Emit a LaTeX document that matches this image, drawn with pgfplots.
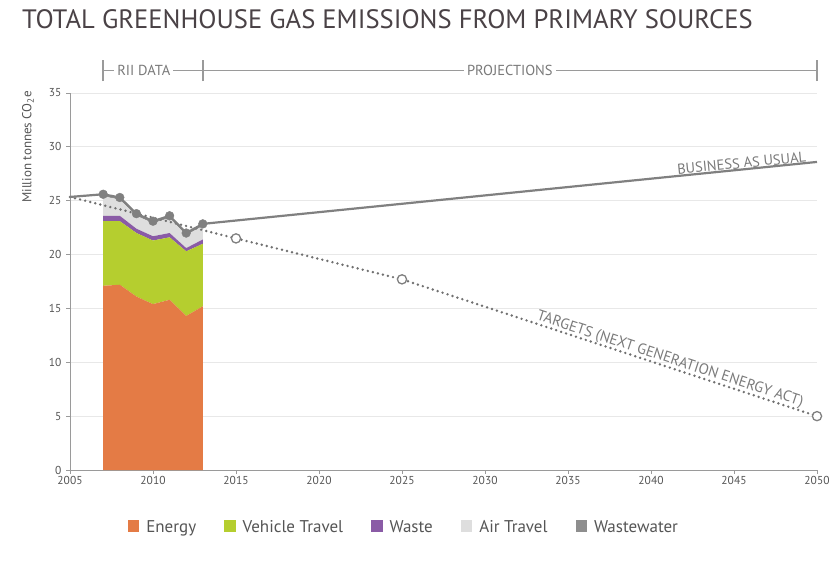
\documentclass[border=0pt]{standalone}
\usepackage{pgfplots}
\pgfplotsset{compat=1.18}
\usepackage{fontspec}
\setmainfont{PT Sans}
\setsansfont{PT Sans}

\definecolor{energy}{HTML}{E47B45}
\definecolor{vehicle}{HTML}{B5CE2F}
\definecolor{waste}{HTML}{8A5BA6}
\definecolor{air}{HTML}{DEDEDE}
\definecolor{wastewater}{HTML}{8E8E8E}
\definecolor{trend}{HTML}{808080}
\definecolor{dots}{HTML}{707070}
\definecolor{titlecol}{HTML}{4A4246}
\definecolor{labelcol}{HTML}{555555}
\definecolor{notecol}{HTML}{7A7A7A}
\definecolor{gridcol}{HTML}{E8E8E8}
\definecolor{axiscol}{HTML}{9A9A9A}

% Emission components by source (million tonnes CO2e)
\pgfplotstableread{
year energy vehicle waste air wastewater
2007 17.1 6.0 0.5 1.8 0.2
2008 17.2 5.9 0.5 1.5 0.2
2009 16.1 5.9 0.4 1.2 0.2
2010 15.4 5.9 0.4 1.2 0.2
2011 15.8 5.8 0.4 1.4 0.2
2012 14.3 6.0 0.3 1.2 0.2
2013 15.2 5.8 0.4 1.25 0.2
}\sources

% Totals, with the business-as-usual path to 2050
\pgfplotstableread{
year total
2005 25.35
2007 25.6
2008 25.3
2009 23.8
2010 23.1
2011 23.6
2012 22.0
2013 22.85
2050 28.6
}\bau

% Reduction targets
\pgfplotstableread{
year target
2005 25.35
2015 21.5
2025 17.7
2050 5.0
}\targets

\pgfplotsset{
  frame/.style={
    at={(70pt,93pt)}, anchor=south west,
    scale only axis, width=747pt, height=377pt,
    xmin=2005, xmax=2050, ymin=0, ymax=35,
    clip=false,
  },
}

\begin{document}
\begin{tikzpicture}
\path[use as bounding box] (0,0) rectangle (840pt,563pt);

\node[anchor=base west, text=titlecol, font=\fontsize{26.6}{30}\selectfont, inner sep=0pt]
  at (22pt,563pt-29pt) {TOTAL GREENHOUSE GAS EMISSIONS FROM PRIMARY SOURCES};

\node[rotate=90, anchor=east, text=labelcol, font=\fontsize{13}{15}\selectfont, inner sep=0pt]
  at (28pt,563pt-91pt) {Million tonnes CO\textsubscript{2}e};

% stacked source areas
\begin{axis}[
  frame,
  xtick={2005,2010,...,2050}, ytick={0,5,...,35},
  axis lines*=left,
  axis line style={axiscol, line width=0.8pt},
  tick style={axiscol, line width=0.8pt},
  tick align=outside, major tick length=4pt,
  ymajorgrids, grid style={gridcol, line width=0.8pt},
  tick label style={text=labelcol, font=\fontsize{11.5}{13}\selectfont},
  /pgf/number format/assume math mode=true,
  /pgf/number format/1000 sep={},
  xticklabel style={yshift=1pt},
  yticklabel style={xshift=-1pt},
  stack plots=y,
  legend columns=5,
  legend style={at={(0.447,-0.151)}, anchor=center, draw=none, fill=none,
    font=\fontsize{17}{20}\selectfont, text=labelcol,
    /tikz/every odd column/.append style={column sep=5pt},
    /tikz/every even column/.append style={column sep=26pt}},
  legend image code/.code={\fill[#1] (0pt,-5pt) rectangle (11.5pt,6.5pt);},
]
\addplot[draw=none, fill=energy] table[x=year, y=energy] {\sources} \closedcycle;
\addlegendentry{Energy}
\addplot[draw=none, fill=vehicle] table[x=year, y=vehicle] {\sources} \closedcycle;
\addlegendentry{Vehicle Travel}
\addplot[draw=none, fill=waste] table[x=year, y=waste] {\sources} \closedcycle;
\addlegendentry{Waste}
\addplot[draw=none, fill=air] table[x=year, y=air] {\sources} \closedcycle;
\addlegendentry{Air Travel}
\addplot[draw=none, fill=wastewater] table[x=year, y=wastewater] {\sources} \closedcycle;
\addlegendentry{Wastewater}
\end{axis}

% trend lines, labels and period brackets
\begin{axis}[
  frame,
  axis lines=none,
]
% targets path
\addplot[dots, line width=2.7pt, line cap=round,
  dash pattern=on 0pt off 5.2pt] table[x=year, y=target] {\targets};
\addplot[only marks, mark=*, mark size=4.6pt,
  mark options={fill=white, draw=trend, line width=1.3pt}]
  table[x=year, y=target, skip coords between index={0}{1}] {\targets};

% business as usual
\addplot[trend, line width=2.2pt] table[x=year, y=total] {\bau};
\addplot[only marks, mark=*, mark size=4.4pt,
  mark options={fill=trend, draw=trend}]
  table[x=year, y=total, skip coords between index={0}{1}, skip coords between index={8}{9}] {\bau};

% curve labels
\node[rotate=5.6, anchor=south, text=notecol, font=\fontsize{14.5}{16}\selectfont, inner sep=1.5pt]
  at (axis cs:2045.5,27.85) {BUSINESS AS USUAL};
\node[rotate=-18.1, anchor=south, text=notecol, font=\fontsize{15}{17}\selectfont, inner sep=0.5pt]
  at (axis cs:2041,9.57) {TARGETS (NEXT GENERATION ENERGY ACT)};

\begin{scope}[axiscol, line width=1.8pt]
  \draw (axis cs:2007,36.1) -- (axis cs:2007,38.1);
  \draw (axis cs:2013,36.1) -- (axis cs:2013,38.1);
  \draw (axis cs:2050,36.1) -- (axis cs:2050,38.1);
  \draw[line width=1pt] (axis cs:2007,37.1) -- (axis cs:2013,37.1);
  \draw[line width=1pt] (axis cs:2013,37.1) -- (axis cs:2050,37.1);
\end{scope}
\node[fill=white, text=notecol, font=\fontsize{14.5}{16}\selectfont, inner xsep=3pt, inner ysep=1pt]
  at (axis cs:2009.45,37.1) {RII DATA};
\node[fill=white, text=notecol, font=\fontsize{14.5}{16}\selectfont, inner xsep=3pt, inner ysep=1pt]
  at (axis cs:2031.5,37.1) {PROJECTIONS};
\end{axis}
\end{tikzpicture}
\end{document}
